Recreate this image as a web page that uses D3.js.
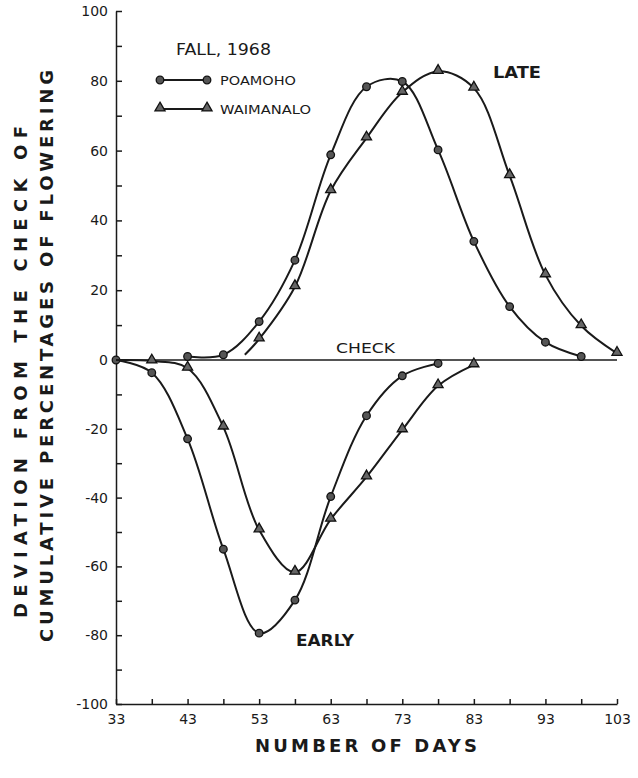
<!DOCTYPE html>
<html>
<head>
<meta charset="utf-8">
<script src="https://cdn.jsdelivr.net/npm/d3@7"></script>
<style>
  body { margin: 0; background: #fff; }
  svg { display: block; font-family: "DejaVu Sans", "Liberation Sans", sans-serif; }
  .axis path, .axis line { stroke: #1a1a1a; stroke-width: 1.5; }
  .axis text { font-size: 14px; fill: #1a1a1a; font-family: "DejaVu Sans", sans-serif; }
</style>
</head>
<body>
<svg id="chart" width="638" height="778"></svg>
<script>
// tick values
const yTicks = d3.range(-100, 101, 10)
const xTicks = d3.range(33, 104, 5)

// late flowering (above check)
const poamohoLateDays = [43, 48, 53, 58, 63, 68, 73, 78, 83, 88, 93, 98]
const poamohoLateValues = [1, 1.5, 11, 28.6, 58.8, 78.3, 79.8, 60.2, 34, 15.3, 5.1, 1]
const waimanaloLateDays = [51, 53, 58, 63, 68, 73, 78, 83, 88, 93, 98, 103]
const waimanaloLateValues = [1.5, 6, 21, 48.5, 63.6, 76.7, 82.7, 77.9, 52.8, 24.4, 9.8, 1.9]

// early flowering (below check)
const poamohoEarlyDays = [33, 38, 43, 48, 53, 58, 63, 68, 73, 78]
const poamohoEarlyValues = [0, -3.7, -22.9, -55, -79.4, -69.8, -39.7, -16.2, -4.6, -1]
const waimanaloEarlyDays = [33, 38, 43, 48, 53, 58, 63, 68, 73, 78, 83]
const waimanaloEarlyValues = [0, -0.3, -2.4, -19.5, -49.4, -61.7, -46.3, -34, -20.3, -7.5, -1.4]

const svg = d3.select("#chart")

const x = d3.scaleLinear().domain([33, 103]).range([116, 617])
const y = d3.scaleLinear().domain([-100, 0, 100]).range([704, 360, 11])

// axes, ticks point inward
svg.append("g")
  .attr("class", "axis")
  .attr("transform", `translate(${x(33)},0)`)
  .call(d3.axisLeft(y).tickValues(yTicks).tickSizeInner(-6).tickSizeOuter(0).tickPadding(8)
    .tickFormat(d => d % 20 === 0 ? String(d) : ""))

svg.append("g")
  .attr("class", "axis")
  .attr("transform", `translate(0,${y(-100)})`)
  .call(d3.axisBottom(x).tickValues(xTicks).tickSizeInner(-5).tickSizeOuter(0).tickPadding(10)
    .tickFormat(d => (d - 33) % 10 === 0 ? String(d) : ""))

// check line
svg.append("line")
  .attr("x1", x(33)).attr("x2", x(103))
  .attr("y1", y(0)).attr("y2", y(0))
  .attr("stroke", "#1a1a1a").attr("stroke-width", 1.3)

const line = d3.line()
  .x(d => x(d.day))
  .y(d => y(d.value))
  .curve(d3.curveCatmullRom.alpha(0.5))

const series = [
  { days: poamohoLateDays, values: poamohoLateValues, shape: "circle", skip: 0 },
  { days: waimanaloLateDays, values: waimanaloLateValues, shape: "triangle", skip: 1 },
  { days: poamohoEarlyDays, values: poamohoEarlyValues, shape: "circle", skip: 0 },
  { days: waimanaloEarlyDays, values: waimanaloEarlyValues, shape: "triangle", skip: 1 }
]

const drawMarker = (g, shape, px, py) => {
  if (shape === "circle") {
    g.append("circle").attr("cx", px).attr("cy", py).attr("r", 3.8)
      .attr("fill", "#555").attr("stroke", "#111").attr("stroke-width", 1.3)
  } else {
    g.append("path").attr("d", d3.symbol(d3.symbolTriangle, 44)())
      .attr("transform", `translate(${px},${py - 1})`)
      .attr("fill", "#666").attr("stroke", "#111").attr("stroke-width", 1.3)
  }
}

series.forEach(s => {
  const pts = s.days.map((d, i) => ({ day: d, value: s.values[i] }))
  svg.append("path")
    .attr("d", line(pts))
    .attr("fill", "none")
    .attr("stroke", "#1a1a1a")
    .attr("stroke-width", 2)
  const g = svg.append("g")
  pts.slice(s.skip).forEach(p => drawMarker(g, s.shape, x(p.day), y(p.value)))
})

// legend
svg.append("text").attr("x", 176).attr("y", 55)
  .attr("font-size", 15).attr("textLength", 95).attr("lengthAdjust", "spacingAndGlyphs")
  .attr("fill", "#1a1a1a").text("FALL, 1968")

const legend = [
  { label: "POAMOHO", shape: "circle", y: 80, w: 76 },
  { label: "WAIMANALO", shape: "triangle", y: 109, w: 91 }
]
legend.forEach(l => {
  const g = svg.append("g")
  g.append("line").attr("x1", 160).attr("x2", 207).attr("y1", l.y).attr("y2", l.y)
    .attr("stroke", "#1a1a1a").attr("stroke-width", 1.8)
  drawMarker(g, l.shape, 160, l.y)
  drawMarker(g, l.shape, 207, l.y)
  g.append("text").attr("x", 220).attr("y", l.y + 5)
    .attr("font-size", 13).attr("textLength", l.w).attr("lengthAdjust", "spacingAndGlyphs")
    .attr("fill", "#1a1a1a").text(l.label)
})

// curve annotations
svg.append("text").attr("x", 493).attr("y", 78).attr("font-size", 16)
  .attr("textLength", 48).attr("lengthAdjust", "spacingAndGlyphs")
  .attr("font-weight", "bold").attr("fill", "#1a1a1a").text("LATE")
svg.append("text").attr("x", 336).attr("y", 353).attr("font-size", 14)
  .attr("textLength", 59).attr("lengthAdjust", "spacingAndGlyphs")
  .attr("fill", "#1a1a1a").text("CHECK")
svg.append("text").attr("x", 296).attr("y", 646).attr("font-size", 16)
  .attr("textLength", 58).attr("lengthAdjust", "spacingAndGlyphs")
  .attr("font-weight", "bold").attr("fill", "#1a1a1a").text("EARLY")

// axis titles
svg.append("text")
  .attr("transform", "translate(366,752)")
  .attr("text-anchor", "middle").attr("font-size", 18).attr("font-weight", "bold")
  .attr("textLength", 222).attr("lengthAdjust", "spacing")
  .attr("fill", "#1a1a1a").text("NUMBER OF DAYS")

svg.append("text")
  .attr("transform", "translate(27,372) rotate(-90)")
  .attr("text-anchor", "middle").attr("font-size", 18).attr("font-weight", "bold")
  .attr("textLength", 492).attr("lengthAdjust", "spacing")
  .attr("fill", "#1a1a1a").text("DEVIATION FROM THE CHECK OF")

svg.append("text")
  .attr("transform", "translate(53,356) rotate(-90)")
  .attr("text-anchor", "middle").attr("font-size", 18).attr("font-weight", "bold")
  .attr("textLength", 572).attr("lengthAdjust", "spacing")
  .attr("fill", "#1a1a1a").text("CUMULATIVE PERCENTAGES OF FLOWERING")
</script>
</body>
</html>
